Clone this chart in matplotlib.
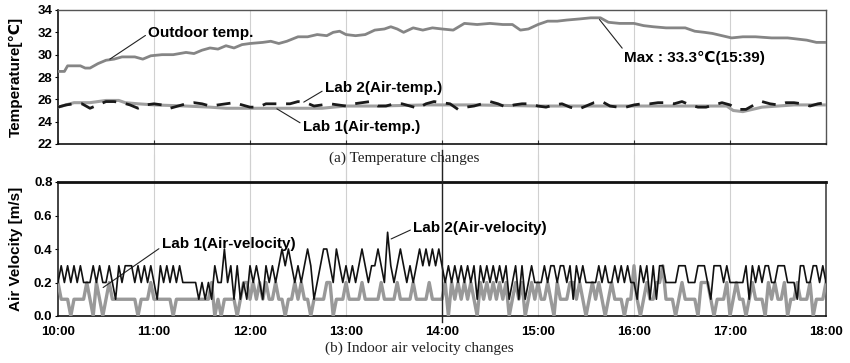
import numpy as np
import matplotlib
matplotlib.use("Agg")
import matplotlib.pyplot as plt
from matplotlib.lines import Line2D

plt.rcParams['font.family'] = ['Liberation Sans', 'DejaVu Sans', 'Noto Sans CJK SC']

# ---------------- data ----------------
hour_ticks = [10, 11, 12, 13, 14, 15, 16, 17, 18]
hour_labels = ["10:00", "11:00", "12:00", "13:00", "14:00", "15:00", "16:00", "17:00", "18:00"]

# Outdoor temperature (minutes after 10:00, degC)
out_min = [0, 4, 6, 14, 17, 20, 25, 30, 35, 40, 48, 53, 58, 65, 72, 80, 85, 90, 95, 100,
           105, 110, 115, 120, 128, 133, 138, 143, 150, 156, 162, 168, 172, 176, 180, 186,
           192, 198, 204, 208, 212, 216, 222, 228, 234, 240, 247, 254, 262, 270, 278, 284,
           289, 294, 300, 306, 312, 318, 326, 333, 339, 344, 351, 360, 366, 372, 380, 386,
           392, 398, 404, 409, 415, 421, 428, 436, 446, 456, 462, 468, 474, 480]
out_temp = [28.5, 28.5, 29.0, 29.0, 28.8, 28.8, 29.2, 29.5, 29.6, 29.8, 29.8, 29.6, 29.9,
            30.0, 30.0, 30.2, 30.1, 30.4, 30.6, 30.5, 30.8, 30.6, 30.9, 31.0, 31.1, 31.2,
            31.0, 31.2, 31.6, 31.6, 31.8, 31.7, 32.0, 32.1, 31.8, 31.7, 31.8, 32.2, 32.3,
            32.5, 32.3, 32.0, 32.4, 32.2, 32.4, 32.3, 32.2, 32.8, 32.7, 32.8, 32.7, 32.7,
            32.2, 32.3, 32.7, 33.0, 33.0, 33.1, 33.2, 33.3, 33.3, 32.9, 32.8, 32.8, 32.6,
            32.5, 32.4, 32.4, 32.4, 32.1, 32.0, 31.9, 31.7, 31.5, 31.6, 31.6, 31.5, 31.5,
            31.4, 31.3, 31.1, 31.1]

# Lab 1 air temperature
lab1_temp_min = [0, 5, 10, 20, 25, 30, 38, 42, 50, 60, 80, 95, 105, 130, 150, 165, 172,
                 180, 200, 230, 260, 300, 330, 360, 400, 418, 422, 428, 434, 440, 450, 460, 480]
lab1_temp = [25.3, 25.5, 25.7, 25.7, 25.8, 25.9, 25.9, 25.7, 25.6, 25.5, 25.4, 25.3, 25.2,
             25.2, 25.2, 25.2, 25.3, 25.4, 25.4, 25.5, 25.5, 25.4, 25.4, 25.4, 25.4, 25.4,
             25.0, 24.9, 25.1, 25.3, 25.4, 25.5, 25.5]

# Lab 2 air temperature (every 5 minutes)
lab2_temp = [25.3, 25.5, 25.6, 25.6, 25.2, 25.5, 25.8, 25.8, 25.7, 25.5, 25.2, 25.5,
             25.6, 25.5, 25.2, 25.4, 25.6, 25.7, 25.6, 25.4, 25.5, 25.6, 25.7, 25.5,
             25.3, 25.3, 25.6, 25.6, 25.6, 25.6, 25.8, 25.7, 25.4, 25.5, 25.6, 25.5,
             25.4, 25.6, 25.7, 25.8, 25.4, 25.4, 25.6, 25.6, 25.4, 25.2, 25.6, 25.8,
             25.7, 25.6, 25.1, 25.3, 25.4, 25.6, 25.8, 25.6, 25.3, 25.5, 25.6, 25.6,
             25.4, 25.3, 25.5, 25.6, 25.3, 25.1, 25.4, 25.7, 25.8, 25.4, 25.3, 25.3,
             25.5, 25.6, 25.6, 25.7, 25.7, 25.6, 25.8, 25.5, 25.3, 25.3, 25.5, 25.7,
             25.5, 25.1, 25.1, 25.5, 25.8, 25.6, 25.5, 25.7, 25.7, 25.6, 25.4, 25.6, 25.7]

# Air velocity, 0.1 m/s units, every 2 minutes, per hour block
lab2_vel_10 = [2,3,2,3,2,3,2,3,2,2, 2,3,2,3,2,2,3,2,1,3, 2,3,3,3,2,3,2,3,2,3]
lab2_vel_11 = [2,1,3,2,3,2,3,2,3,2, 2,2,2,2,1,2,1,2,1,3, 2,2,4,2,3,1,3,1,2,1]
lab2_vel_12 = [3,2,3,2,1,3,2,3,2,3, 4,3,4,3,2,3,2,3,4,3, 1,2,3,4,4,3,2,4,3,2]
lab2_vel_13 = [3,2,3,2,3,4,3,2,3,3, 4,3,2,5,3,2,3,4,3,2, 3,2,3,4,3,4,3,4,3,4]
lab2_vel_14 = [3,2,3,2,3,2,3,2,3,2, 3,1,3,2,3,2,3,2,3,2, 3,1,2,3,1,3,1,2,3,2]
lab2_vel_15 = [2,2,3,2,3,3,2,3,3,2, 3,1,3,2,3,2,2,2,2,3, 2,3,2,2,3,2,3,2,3,2]
lab2_vel_16 = [2,1,3,2,3,1,3,1,3,3, 2,2,2,2,3,3,3,2,2,2, 3,3,3,2,1,3,3,3,2,3]
lab2_vel_17 = [2,2,2,2,2,3,1,3,2,3, 2,3,3,2,2,3,3,3,2,2, 2,1,3,3,2,2,3,3,2,3, 2]

lab1_vel_10 = [2,1,1,1,0,1,1,1,1,2, 1,0,2,1,0,1,2,1,1,1, 1,1,1,1,1,0,1,1,1,2]
lab1_vel_11 = [1,1,1,1,1,1,0,1,1,1, 1,1,1,1,1,1,1,1,2,0, 1,0,1,1,1,1,0,1,2,2]
lab1_vel_12 = [1,2,1,2,1,2,1,1,2,1, 1,0,1,1,2,1,2,1,1,0, 1,1,1,1,2,2,0,1,1,1]
lab1_vel_13 = [2,1,1,1,1,2,1,1,1,1, 1,2,1,1,1,1,2,1,1,1, 1,2,1,1,1,1,2,1,1,1]
lab1_vel_14 = [1,2,0,2,1,2,1,2,1,2, 1,0,2,1,2,1,2,1,2,1, 2,0,1,2,1,2,0,1,2,1]
lab1_vel_15 = [2,1,1,2,1,0,2,1,1,1, 2,2,1,2,1,0,1,2,1,2, 1,0,1,2,1,1,1,0,1,1]
lab1_vel_16 = [3,1,0,1,2,1,1,2,2,3, 1,1,1,0,1,2,1,1,1,1, 0,2,2,2,1,0,1,1,1,2]
lab1_vel_17 = [0,1,2,1,1,0,1,2,1,1, 1,0,2,1,2,1,1,2,0,1, 1,2,1,1,1,2,0,1,1,1, 2]

# ---------------- derived ----------------
lab2_vel = np.array(lab2_vel_10 + lab2_vel_11 + lab2_vel_12 + lab2_vel_13 +
                    lab2_vel_14 + lab2_vel_15 + lab2_vel_16 + lab2_vel_17) * 0.1
lab1_vel = np.array(lab1_vel_10 + lab1_vel_11 + lab1_vel_12 + lab1_vel_13 +
                    lab1_vel_14 + lab1_vel_15 + lab1_vel_16 + lab1_vel_17) * 0.1
vel_hours = 10 + np.arange(len(lab2_vel)) * 2 / 60.0
out_hours = 10 + np.array(out_min) / 60.0
lab1_temp_hours = 10 + np.array(lab1_temp_min) / 60.0
lab2_temp_hours = 10 + np.arange(len(lab2_temp)) * 5 / 60.0

W, H = 850, 363
fig = plt.figure(figsize=(W / 100, H / 100), dpi=100)
fig.patch.set_facecolor('white')

axL, axR = 58 / W, 826 / W
ax1 = fig.add_axes([axL, 1 - 144 / H, axR - axL, 134 / H])
ax2 = fig.add_axes([axL, 1 - 316 / H, axR - axL, 134 / H])

GRID = '#d0d0d0'

# ---- top panel ----
for h in hour_ticks[1:-1]:
    ax1.axvline(h, ymin=-0.28, ymax=1, color=GRID, lw=0.8, clip_on=False, zorder=0)
ax1.plot(out_hours, out_temp, color='#858585', lw=2.0, zorder=3)
ax1.plot(lab1_temp_hours, lab1_temp, color='#a0a0a0', lw=2.2, zorder=3)
ax1.plot(lab2_temp_hours, lab2_temp, color='#1a1a1a', lw=2.0, ls=(0, (5, 3.5)), zorder=4)
ax1.set_xlim(10, 18)
ax1.set_ylim(22, 34)
ax1.set_yticks([22, 24, 26, 28, 30, 32, 34])
ax1.set_xticks(hour_ticks)
ax1.tick_params(axis='x', direction='in', length=3, labelbottom=False, color='#333333')
ax1.tick_params(axis='y', direction='out', length=2, pad=2)
for lab in ax1.get_yticklabels():
    lab.set_fontsize(9.5); lab.set_fontweight('bold')
ax1.set_ylabel('Temperature[℃]', fontsize=11, fontweight='bold')
ax1.yaxis.set_label_coords(-0.046, 0.5)
for s in ['top', 'right']:
    ax1.spines[s].set_color('#555555'); ax1.spines[s].set_linewidth(1.0)
for s in ['left', 'bottom']:
    ax1.spines[s].set_color('#111111'); ax1.spines[s].set_linewidth(1.2)

ann = dict(fontsize=11, fontweight='bold', va='center', ha='left')
line_kw = dict(arrowstyle='-', color='#222222', lw=0.8, shrinkA=0, shrinkB=0)
ax1.annotate('Outdoor temp.', xy=(10.54, 29.6), xytext=(10.94, 31.95),
             arrowprops=dict(relpos=(0, 0.45), **line_kw), **ann)
ax1.annotate('Max : 33.3℃(15:39)', xy=(15.64, 33.15), xytext=(15.9, 29.7),
             arrowprops=dict(relpos=(0, 1.0), **line_kw), **ann)
ax1.annotate('Lab 2(Air-temp.)', xy=(12.56, 25.75), xytext=(12.78, 27.0),
             arrowprops=dict(relpos=(0, 0.4), **line_kw), **ann)
ax1.annotate('Lab 1(Air-temp.)', xy=(12.28, 25.15), xytext=(12.55, 23.5),
             arrowprops=dict(relpos=(0, 0.7), **line_kw), **ann)

# ---- bottom panel ----
for h in hour_ticks[1:-1]:
    ax2.axvline(h, ymin=0, ymax=1.2, color=GRID, lw=0.8, clip_on=False, zorder=0)
ax2.plot(vel_hours, lab1_vel, color='#999999', lw=2.4, zorder=3)
ax2.plot(vel_hours, lab2_vel, color='#111111', lw=1.2, zorder=4)
ax2.set_xlim(10, 18)
ax2.set_ylim(0, 0.8)
ax2.set_yticks([0.0, 0.2, 0.4, 0.6, 0.8])
ax2.set_yticklabels(['0.0', '0.2', '0.4', '0.6', '0.8'])
ax2.set_xticks(hour_ticks)
ax2.set_xticklabels(hour_labels)
ax2.tick_params(axis='x', length=0, pad=7)
ax2.tick_params(axis='y', direction='out', length=2, pad=2)
for lab in ax2.get_yticklabels() + ax2.get_xticklabels():
    lab.set_fontsize(9.5); lab.set_fontweight('bold')
ax2.set_ylabel('Air Velocity [m/s]', fontsize=11, fontweight='bold')
ax2.yaxis.set_label_coords(-0.046, 0.5)
ax2.spines['top'].set_linewidth(2.0); ax2.spines['top'].set_color('#111111')
ax2.spines['right'].set_color('#444444'); ax2.spines['right'].set_linewidth(1.2)
ax2.spines['left'].set_color('#222222'); ax2.spines['left'].set_linewidth(1.2)
ax2.spines['bottom'].set_color('#111111'); ax2.spines['bottom'].set_linewidth(1.2)

ax2.annotate('Lab 1(Air-velocity)', xy=(10.47, 0.17), xytext=(11.08, 0.43),
             arrowprops=dict(relpos=(0, 0.3), **line_kw), **ann)
ax2.annotate('Lab 2(Air-velocity)', xy=(13.47, 0.46), xytext=(13.70, 0.525),
             arrowprops=dict(relpos=(0, 0.45), **line_kw), **ann)

# captions
serif = ['Liberation Serif', 'DejaVu Serif']
fig.text(404 / W, 1 - 158 / H, '(a) Temperature changes', family=serif, fontsize=11,
         ha='center', va='center', color='#222222')
fig.text(419 / W, 1 - 348 / H, '(b) Indoor air velocity changes', family=serif,
         fontsize=11, ha='center', va='center', color='#222222')

# scan artefact vertical line at 14:00
fig.add_artist(Line2D([442 / W, 442 / W], [1 - 150 / H, 1 - 322 / H],
                      color='#222222', lw=1.0))

fig.savefig('out.png', dpi=100, facecolor='white')
